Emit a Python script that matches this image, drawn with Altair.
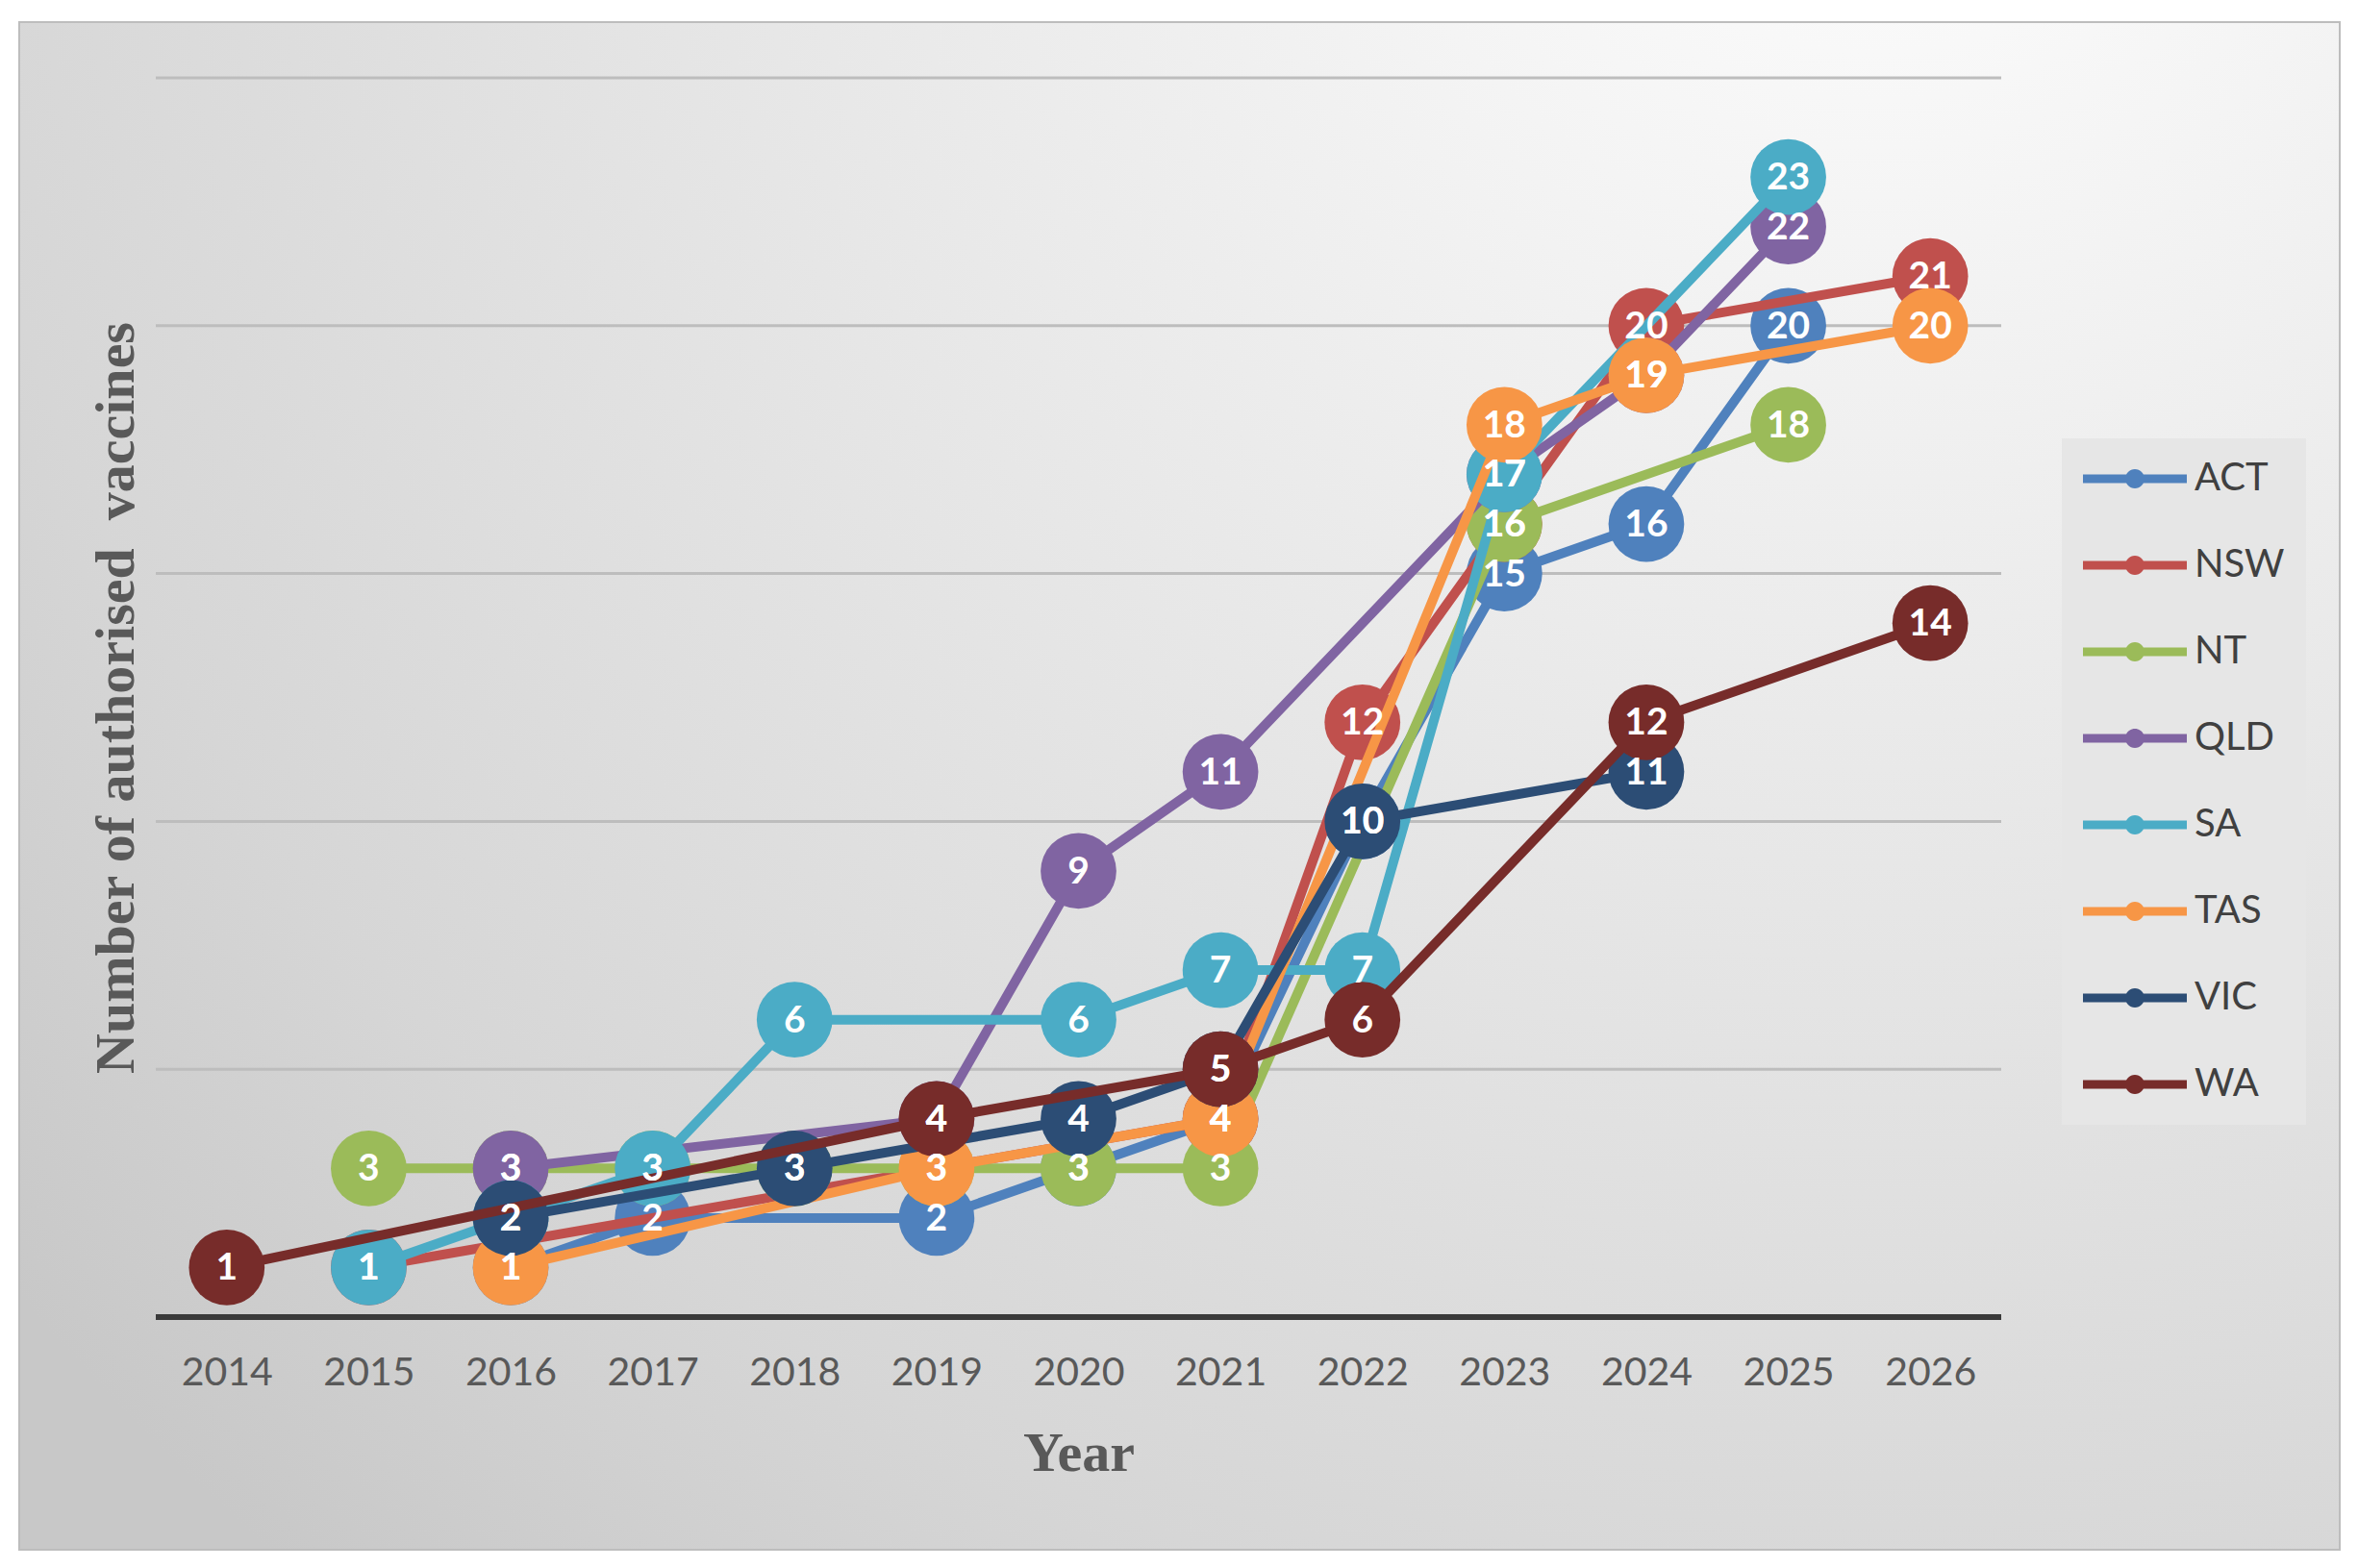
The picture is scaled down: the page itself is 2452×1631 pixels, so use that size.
import altair as alt
import pandas as pd

# categories and series (gaps are years with no point)
YEARS = [2014, 2015, 2016, 2017, 2018, 2019, 2020, 2021, 2022, 2023, 2024, 2025, 2026]
STATES = ["ACT", "NSW", "NT", "QLD", "SA", "TAS", "VIC", "WA"]
COLORS = ["#4F81BD", "#C0504D", "#9BBB59", "#8064A2", "#4BACC6", "#F79646", "#2C4D75", "#772C2A"]

ACT_YEARS = [2016, 2017, 2019, 2020, 2021, 2022, 2023, 2024, 2025]
ACT_VALUES = [1, 2, 2, 3, 4, 10, 15, 16, 20]
NSW_YEARS = [2015, 2021, 2022, 2023, 2024, 2026]
NSW_VALUES = [1, 4, 12, 16, 20, 21]
NT_YEARS = [2015, 2016, 2017, 2018, 2019, 2020, 2021, 2023, 2025]
NT_VALUES = [3, 3, 3, 3, 3, 3, 3, 16, 18]
QLD_YEARS = [2016, 2019, 2020, 2021, 2023, 2024, 2025]
QLD_VALUES = [3, 4, 9, 11, 17, 19, 22]
SA_YEARS = [2015, 2016, 2017, 2018, 2020, 2021, 2022, 2023, 2025]
SA_VALUES = [1, 2, 3, 6, 6, 7, 7, 17, 23]
TAS_YEARS = [2016, 2019, 2021, 2023, 2024, 2026]
TAS_VALUES = [1, 3, 4, 18, 19, 20]
VIC_YEARS = [2016, 2018, 2020, 2021, 2022, 2024]
VIC_VALUES = [2, 3, 4, 5, 10, 11]
WA_YEARS = [2014, 2019, 2021, 2022, 2024, 2026]
WA_VALUES = [1, 4, 5, 6, 12, 14]

GRID_VALUES = [5, 10, 15, 20, 25]
BASE_VALUE = [0]

SERIES = {
    "ACT": (ACT_YEARS, ACT_VALUES),
    "NSW": (NSW_YEARS, NSW_VALUES),
    "NT": (NT_YEARS, NT_VALUES),
    "QLD": (QLD_YEARS, QLD_VALUES),
    "SA": (SA_YEARS, SA_VALUES),
    "TAS": (TAS_YEARS, TAS_VALUES),
    "VIC": (VIC_YEARS, VIC_VALUES),
    "WA": (WA_YEARS, WA_VALUES),
}

rows = []
for s in STATES:
    yrs, vals = SERIES[s]
    for yr, v in zip(yrs, vals):
        rows.append({"state": s, "year": yr, "value": v})
df = pd.DataFrame(rows)

W, H = 1919, 1289

xscale = alt.Scale(domain=YEARS, type="point", padding=0.5)
yscale = alt.Scale(domain=[0, 25], nice=False, zero=True)

xaxis = alt.Axis(
    title="Year", grid=False, domain=False, ticks=False, zindex=1,
    labelFont="Lato", labelFontSize=41, labelColor="#595959",
    labelPadding=58, labelBaseline="middle", labelAngle=0,
    titleFont="Liberation Serif", titleFontSize=58, titleFontWeight="bold",
    titleColor="#595959", titleY=142, titleBaseline="middle",
)
yaxis = alt.Axis(
    title="Number of authorised\u00a0 vaccines", grid=False, domain=False,
    ticks=False, labels=False, zindex=1,
    titleFont="Liberation Serif", titleFontSize=58, titleFontWeight="bold",
    titleColor="#595959", titleAngle=270, titleX=-41, titleY=H / 2,
    titleAlign="center", titleBaseline="middle",
)

X = alt.X("year:O", scale=xscale, axis=xaxis)
Y = alt.Y("value:Q", scale=yscale, axis=yaxis)

LEGEND_PATH = ("M-2.7,-0.22L2.7,-0.22L2.7,0.22L-2.7,0.22Z "
               "M0.5,0A0.5,0.5 0 1,1 -0.5,0A0.5,0.5 0 1,1 0.5,0Z")
legend = alt.Legend(
    title=None, orient="none", legendX=1982, legendY=375,
    symbolType=LEGEND_PATH, symbolSize=1600, symbolStrokeWidth=0,
    symbolOffset=34, labelOffset=42, rowPadding=50, padding=22,
    labelFont="Lato", labelFontSize=40, labelColor="#404040",
    fillColor="#E6E6E6",
)
color = alt.Color("state:N", scale=alt.Scale(domain=STATES, range=COLORS), legend=legend)

background = alt.Chart(pd.DataFrame({"a": [0]})).mark_rect(
    fill={
        "gradient": "radial",
        "x1": 0.8, "y1": 0.04, "r1": 0,
        "x2": 0.8, "y2": 0.04, "r2": 1.05,
        "stops": [
            {"offset": 0, "color": "#FFFFFF"},
            {"offset": 0.45, "color": "#E8E8E8"},
            {"offset": 0.8, "color": "#D6D6D6"},
            {"offset": 1, "color": "#C8C8C8"},
        ],
    },
    stroke="#BDBDBD", strokeWidth=2,
).encode(
    x=alt.value(-142), x2=alt.value(W + 352),
    y=alt.value(-58), y2=alt.value(H + 242),
)

grid = alt.Chart(pd.DataFrame({"value": GRID_VALUES})).mark_rule(
    color="#BDBDBD", strokeWidth=3
).encode(y=Y, x=alt.value(0), x2=alt.value(W))

base = alt.Chart(pd.DataFrame({"value": BASE_VALUE})).mark_rule(
    color="#3A3A3A", strokeWidth=6
).encode(y=Y, x=alt.value(0), x2=alt.value(W))

layers = [background, grid, base]
for s, c in zip(STATES, COLORS):
    sub = alt.Chart(df).transform_filter(alt.datum.state == s)
    layers.append(
        sub.mark_line(color=c, strokeWidth=10, strokeJoin="round", strokeCap="round")
        .encode(x=X, y=Y)
    )
    layers.append(
        sub.mark_circle(size=6200, opacity=1).encode(x=X, y=Y, color=color)
    )

labels = alt.Chart(df).mark_text(
    font="Lato", fontSize=39, fontWeight="bold", color="white", baseline="middle", dy=1
).encode(x=X, y=Y, text="value:Q")
layers.append(labels)

chart = alt.layer(*layers).properties(
    width=W, height=H,
    padding={"left": 11, "top": 14, "right": 0, "bottom": 0},
).configure_view(stroke=None).configure(background="white")

chart.save("out.html", embed_options={"renderer": "svg", "actions": False})
